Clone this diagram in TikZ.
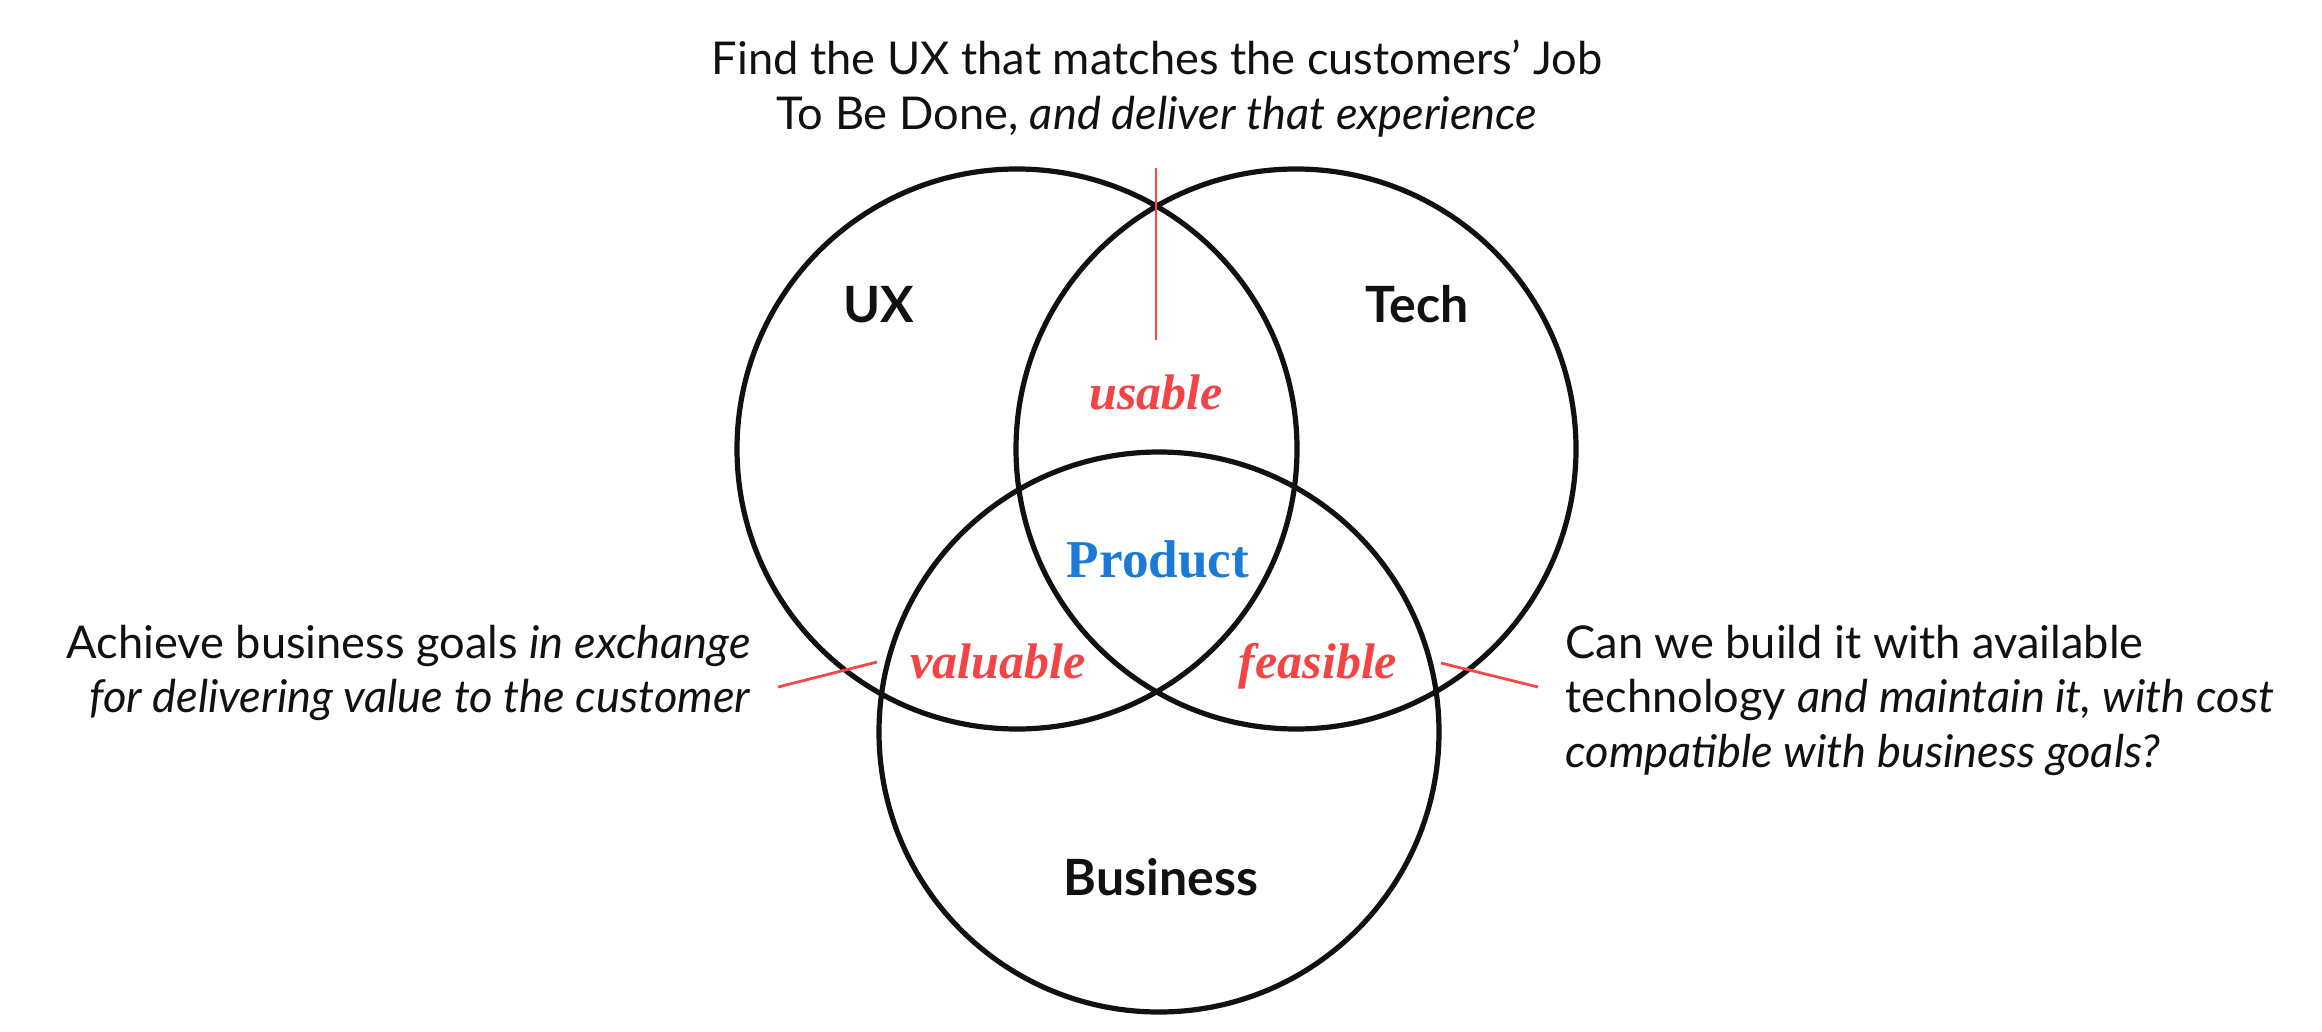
\documentclass[tikz,border=0pt]{standalone}
\usepackage{fontspec}
\setmainfont{Lato}
\newfontfamily\labelfont{Liberation Serif}
\definecolor{labelred}{HTML}{F24444}
\definecolor{linered}{HTML}{F54848}
\definecolor{prodblue}{HTML}{1A7AD6}
\definecolor{ink}{HTML}{111111}
\begin{document}
\begin{tikzpicture}[x=0.5pt,y=-0.5pt,
  ring/.style={draw=ink, line width=2.6pt, circle, minimum size=280pt, inner sep=0pt},
  pointer/.style={draw=linered, line width=1.4pt},
  setname/.style={font=\fontsize{25}{30}\selectfont\bfseries, text=ink, anchor=base, inner sep=0pt},
  area/.style={font=\labelfont\fontsize{25}{30}\selectfont\bfseries\itshape, text=labelred, anchor=base, inner sep=0pt},
  core/.style={font=\labelfont\fontsize{26.6}{30}\selectfont\bfseries, text=prodblue, anchor=base, inner sep=0pt},
  note/.style={font=\fontsize{22.6}{27.3}\selectfont, text=ink, inner sep=0pt}
]
\useasboundingbox (0,0) rectangle (2322,1032);
% circles
\node[ring] (ux) at (1017,449) {};
\node[ring] (tech) at (1296,449) {};
\node[ring] (biz) at (1159,732) {};
% set names
\node[setname] (uxl) at (879,322) {UX};
\node[setname] (techl) at (1417,322) {Tech};
\node[setname] (bizl) at (1161,895) {Business};
% intersection labels
\node[area] (usable) at (1156,409) {usable};
\node[area] (valuable) at (998,678) {valuable};
\node[area] (feasible) at (1318,678) {feasible};
\node[core] (product) at (1158,577) {Product};
% notes
\node[note, anchor=base] (topnote) at (1157,75)
  {\begin{tabular}[t]{@{}c@{}}Find the UX that matches the customers’ Job\\ To Be Done, \textit{and deliver that experience}\end{tabular}};
\node[note, anchor=base east] (leftnote) at (751,658)
  {\begin{tabular}[t]{@{}r@{}}Achieve business goals \textit{in exchange}\\ \textit{for delivering value to the customer}\end{tabular}};
\node[note, anchor=base west] (rightnote) at (1565,658)
  {\begin{tabular}[t]{@{}l@{}}Can we build it with available\\ technology \textit{and maintain it, with cost}\\ \textit{compatible with business goals?}\end{tabular}};
% pointer lines
\coordinate (tA) at (1156,168);
\coordinate (tB) at (1156,340);
\coordinate (lA) at (778,687);
\coordinate (lB) at (877,662);
\coordinate (rA) at (1538,687);
\coordinate (rB) at (1441,663);
\draw[pointer] (tA) -- (tB);
\draw[pointer] (lA) -- (lB);
\draw[pointer] (rA) -- (rB);
\end{tikzpicture}
\end{document}
